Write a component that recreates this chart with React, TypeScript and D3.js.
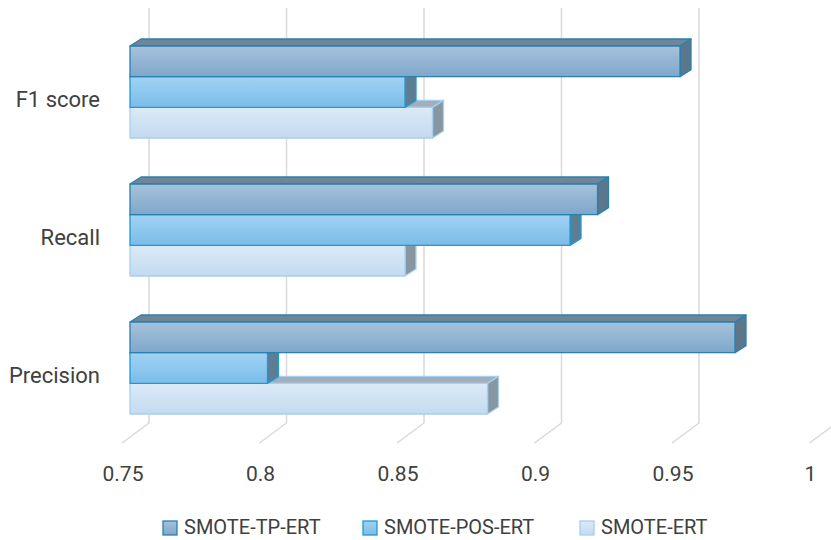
import * as d3 from 'd3';

const categories = ['F1 score', 'Recall', 'Precision'];
const seriesNames = ['SMOTE-TP-ERT', 'SMOTE-POS-ERT', 'SMOTE-ERT'];
const tpValues = [0.95, 0.92, 0.97];
const posValues = [0.85, 0.91, 0.8];
const ertValues = [0.86, 0.85, 0.88];
const tickValues = [0.75, 0.8, 0.85, 0.9, 0.95, 1];

const W = 831;
const H = 540;

// face colours per series: front gradient top/bottom, stroke, top face, side face
const STYLES = [
  { g0: '#a6c2db', g1: '#7fa7ca', stroke: '#2a80b0', top: '#6f8699', side: '#5b778c' },
  { g0: '#a0d3f4', g1: '#7bbce8', stroke: '#1d9ad6', top: '#6a8aa2', side: '#5e7c92' },
  { g0: '#dbeaf7', g1: '#c3daf0', stroke: '#a6cfee', top: '#a2aeb9', side: '#8796a3' },
];

const DX = 11; // bar depth offset
const DY = -7;

export default function App() {
  const values = [tpValues, posValues, ertValues];

  const x = d3.scaleLinear().domain([0.75, 1]).range([130, 817.5]);
  const xBack = (v: number) => x(v) + 19;
  const y = d3.scaleBand<string>()
    .domain(categories)
    .range([11.5, 448.5])
    .paddingInner(1 / 3)
    .paddingOuter(0.25);
  const ySub = d3.scaleBand<string>().domain(seriesNames).range([0, y.bandwidth()]);

  const floorTop = 423;
  const floorBottom = 443;
  const floorDx = -27;

  const font = 'Roboto, "Liberation Sans", sans-serif';
  const legendX = [163, 363, 580];

  return (
    <svg width={W} height={H} style={{ position: 'absolute', left: 0, top: 0, background: '#fff' }}>
      <defs>
        {STYLES.map((s, i) => (
          <linearGradient key={i} id={`front${i}`} x1="0" y1="0" x2="0" y2="1">
            <stop offset="0%" stopColor={s.g0} />
            <stop offset="100%" stopColor={s.g1} />
          </linearGradient>
        ))}
      </defs>

      {/* back wall gridlines + floor diagonals */}
      {tickValues.map((t) => (
        <g key={t} stroke="#d9d9d9" strokeWidth={1.5} fill="none">
          <line x1={xBack(t)} x2={xBack(t)} y1={8} y2={floorTop} />
          <line x1={xBack(t)} y1={floorTop} x2={xBack(t) + floorDx} y2={floorBottom} />
        </g>
      ))}

      {/* tick labels */}
      {tickValues.map((t) => (
        <text
          key={'t' + t}
          x={xBack(t) + floorDx + 1}
          y={481}
          textAnchor="middle"
          fontFamily={font}
          fontSize={21}
          fill="#404040"
        >
          {d3.format('~g')(t)}
        </text>
      ))}

      {/* bars: bottom series first so upper bars cover their top faces */}
      {categories.map((c, ci) => (
        <g key={c}>
          {[2, 1, 0].map((si) => {
            const s = STYLES[si];
            const v = values[si][ci];
            const y0 = (y(c) as number) + (ySub(seriesNames[si]) as number);
            const h = ySub.bandwidth();
            const x0 = x(0.75);
            const x1 = x(v);
            const topFace = `M${x0},${y0} L${x0 + DX},${y0 + DY} L${x1 + DX},${y0 + DY} L${x1},${y0} Z`;
            const sideFace = `M${x1},${y0} L${x1 + DX},${y0 + DY} L${x1 + DX},${y0 + h + DY} L${x1},${y0 + h} Z`;
            return (
              <g key={si} stroke={s.stroke} strokeWidth={1.3} strokeLinejoin="round">
                <path d={topFace} fill={s.top} />
                <path d={sideFace} fill={s.side} />
                <rect x={x0} y={y0} width={x1 - x0} height={h} fill={`url(#front${si})`} />
              </g>
            );
          })}
        </g>
      ))}

      {/* category labels */}
      {categories.map((c) => (
        <text
          key={'c' + c}
          x={100}
          y={(y(c) as number) + y.bandwidth() / 2 + 14.5}
          textAnchor="end"
          fontFamily={font}
          fontSize={22}
          fill="#404040"
        >
          {c}
        </text>
      ))}

      {/* legend */}
      {seriesNames.map((n, i) => (
        <g key={'l' + n}>
          <rect
            x={legendX[i]}
            y={521}
            width={14}
            height={14}
            fill={`url(#front${i})`}
            stroke={STYLES[i].stroke}
            strokeWidth={1.3}
          />
          <text x={legendX[i] + 21} y={534} fontFamily={font} fontSize={20} fill="#404040">
            {n}
          </text>
        </g>
      ))}
    </svg>
  );
}
